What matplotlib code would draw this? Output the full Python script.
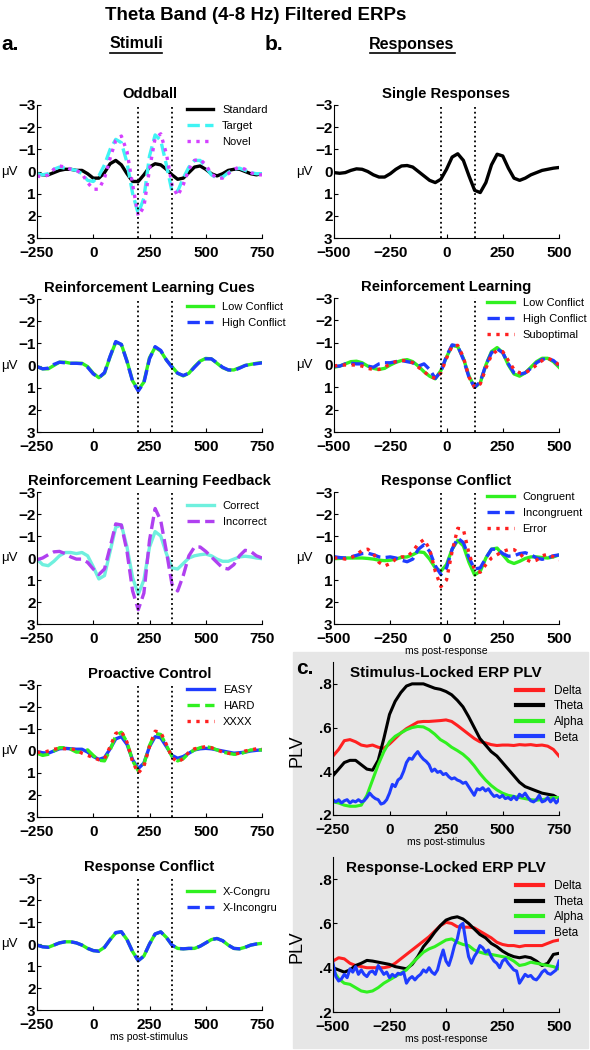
import numpy as np
import matplotlib
matplotlib.use('Agg')
import matplotlib.pyplot as plt
from matplotlib.patches import Rectangle
from matplotlib.lines import Line2D

plt.rcParams['font.family'] = ['Liberation Sans', 'DejaVu Sans']

# time axes (ms)
t_stim = np.arange(-250, 751, 25)
t_resp = np.arange(-500, 501, 25)
t_stim_fine = np.arange(-250, 750.1, 12.5)
t_resp_fine = np.arange(-500, 500.1, 12.5)

# ---- a. stimulus-locked theta ERPs (uV) ----
odd_standard = [0.1, 0.15, 0.15, 0.05, -0.05, -0.1, -0.1, -0.05, -0.05, 0.1,
                0.3, 0.3, 0.05, -0.35, -0.5, -0.3, 0.1, 0.45, 0.45, 0.15,
                -0.2, -0.35, -0.3, -0.1, 0.15, 0.35, 0.3, 0.05, -0.2, -0.25,
                -0.1, 0.1, 0.2, 0.1, -0.05, -0.1, -0.1, 0.0, 0.1, 0.15,
                0.1]
odd_target = [0.1, 0.15, 0.1, -0.1, -0.2, -0.15, -0.1, -0.05, 0.1, 0.4,
              0.45, 0.2, -0.3, -1.0, -1.45, -1.3, -0.4, 1.0, 1.9, 1.2,
              -0.7, -1.65, -1.4, -0.3, 0.9, 0.9, 0.3, -0.2, -0.5, -0.5,
              -0.2, 0.15, 0.3, 0.25, 0.05, -0.1, -0.15, -0.05, 0.05, 0.1,
              0.1]
odd_novel = [0.2, 0.25, 0.15, -0.1, -0.25, -0.2, -0.1, -0.05, 0.1, 0.5,
             0.8, 0.8, 0.3, -0.6, -1.4, -1.6, -0.9, 0.6, 2.0, 1.6,
             -0.1, -1.5, -1.7, -0.8, 0.6, 1.1, 0.6, -0.1, -0.5, -0.55,
             -0.3, 0.1, 0.3, 0.3, 0.1, -0.1, -0.2, -0.1, 0.05, 0.15,
             0.15]

cue_low = [0.05, 0.15, 0.15, 0.0, -0.15, -0.15, -0.1, -0.1, -0.1, 0.05,
           0.35, 0.55, 0.35, -0.4, -1.05, -0.95, -0.2, 0.7, 1.1, 0.75,
           -0.35, -0.82, -0.65, -0.25, 0.05, 0.35, 0.47, 0.35, 0.05, -0.2,
           -0.32, -0.3, -0.1, 0.1, 0.2, 0.2, 0.1, 0.0, -0.05, -0.1,
           -0.13]
cue_high = [0.05, 0.15, 0.12, -0.05, -0.15, -0.12, -0.1, -0.1, -0.08, 0.08,
            0.38, 0.55, 0.32, -0.42, -1.08, -0.95, -0.18, 0.72, 1.15, 0.78,
            -0.3, -0.85, -0.68, -0.25, 0.08, 0.35, 0.45, 0.35, 0.08, -0.18,
            -0.3, -0.3, -0.12, 0.08, 0.2, 0.22, 0.12, 0.0, -0.05, -0.08,
            -0.12]

fb_correct = [0.05, 0.3, 0.35, 0.15, -0.1, -0.25, -0.25, -0.2, -0.25, -0.1,
              0.4, 0.95, 0.8, -0.3, -1.4, -1.5, -0.5, 0.9, 1.65, 1.0,
              -0.5, -1.2, -1.0, -0.2, 0.45, 0.5, 0.25, 0.0, -0.1, -0.15,
              -0.18, -0.1, 0.05, 0.15, 0.15, 0.05, -0.05, -0.08, -0.05, 0.0,
              0.03]
fb_incorrect = [0.08, 0.0, -0.15, -0.28, -0.3, -0.2, -0.05, 0.05, 0.05, 0.2,
                0.5, 0.75, 0.5, -0.5, -1.55, -1.5, -0.3, 1.5, 2.35, 1.6,
                -0.8, -2.25, -1.7, -0.3, 1.2, 1.5, 0.8, -0.1, -0.5, -0.5,
                -0.3, -0.05, 0.2, 0.45, 0.5, 0.3, -0.1, -0.35, -0.3, -0.1,
                0.0]

pro_easy = [0.03, 0.08, 0.1, 0.0, -0.1, -0.12, -0.1, -0.08, -0.08, 0.05,
            0.25, 0.38, 0.3, -0.1, -0.55, -0.65, -0.3, 0.4, 0.8, 0.55,
            -0.2, -0.65, -0.6, -0.2, 0.2, 0.33, 0.25, 0.1, -0.05, -0.1,
            -0.12, -0.1, -0.05, 0.0, 0.05, 0.1, 0.08, 0.05, 0.0, -0.03,
            -0.05]
pro_hard = [0.1, 0.2, 0.15, 0.0, -0.15, -0.15, -0.08, 0.05, 0.05, -0.05,
            0.2, 0.42, 0.45, -0.05, -0.7, -0.85, -0.4, 0.45, 0.9, 0.6,
            -0.25, -0.8, -0.75, -0.25, 0.25, 0.45, 0.35, 0.1, -0.05, -0.15,
            -0.2, -0.15, -0.05, 0.05, 0.1, 0.15, 0.15, 0.05, -0.05, -0.05,
            -0.05]
pro_xxxx = [0.05, 0.08, 0.0, -0.08, -0.12, -0.1, -0.1, -0.05, 0.1, 0.2,
            0.3, 0.4, 0.35, -0.2, -0.8, -0.9, -0.4, 0.5, 1.0, 0.7,
            -0.2, -0.9, -0.85, -0.3, 0.3, 0.5, 0.35, 0.05, -0.1, -0.15,
            -0.2, -0.15, -0.05, 0.05, 0.1, 0.15, 0.1, 0.0, -0.05, -0.1,
            -0.1]

rc_xcongru = [0.05, 0.12, 0.15, 0.05, -0.05, -0.1, -0.1, -0.05, 0.05, 0.2,
              0.3, 0.32, 0.15, -0.2, -0.5, -0.55, -0.2, 0.35, 0.75, 0.55,
              0.0, -0.45, -0.55, -0.3, 0.05, 0.2, 0.22, 0.2, 0.2, 0.1,
              -0.05, -0.2, -0.25, -0.15, 0.05, 0.2, 0.22, 0.15, 0.05, 0.0,
              -0.03]
rc_xincongru = [0.05, 0.13, 0.15, 0.05, -0.05, -0.1, -0.1, -0.05, 0.05, 0.2,
                0.3, 0.33, 0.15, -0.2, -0.52, -0.56, -0.2, 0.35, 0.76, 0.55,
                0.0, -0.46, -0.55, -0.3, 0.05, 0.2, 0.22, 0.2, 0.2, 0.1,
                -0.05, -0.2, -0.25, -0.15, 0.05, 0.2, 0.22, 0.15, 0.05, 0.0,
                -0.03]

# ---- b. response-locked theta ERPs (uV) ----
single_resp = [0.05, 0.08, 0.05, -0.05, -0.12, -0.1, 0.0, 0.15, 0.25, 0.25,
               0.1, -0.1, -0.25, -0.27, -0.2, 0.0, 0.2, 0.4, 0.5, 0.35,
               -0.1, -0.65, -0.8, -0.5, 0.2, 0.85, 0.95, 0.5, -0.3, -0.78,
               -0.7, -0.15, 0.3, 0.4, 0.3, 0.15, 0.05, -0.05, -0.1, -0.15,
               -0.18]

rl_low = [0.1, 0.05, -0.05, -0.15, -0.17, -0.1, 0.05, 0.15, 0.2, 0.15,
          0.0, -0.12, -0.2, -0.24, -0.15, 0.05, 0.3, 0.5, 0.62, 0.25,
          -0.35, -0.88, -0.82, -0.3, 0.5, 1.0, 0.8, 0.0, -0.6, -0.78,
          -0.55, 0.0, 0.4, 0.5, 0.35, 0.1, -0.15, -0.3, -0.3, -0.15,
          0.1]
rl_high = [0.05, 0.05, -0.05, -0.08, -0.05, -0.05, 0.05, 0.1, -0.05, -0.1,
           -0.1, -0.15, -0.2, -0.15, -0.1, 0.05, -0.05, 0.2, 0.6, 0.3,
           -0.4, -0.9, -0.85, -0.25, 0.55, 1.0, 0.75, 0.0, -0.55, -0.72,
           -0.55, -0.05, 0.35, 0.42, 0.35, 0.15, -0.1, -0.25, -0.3, -0.2,
           0.02]
rl_subopt = [0.05, 0.0, 0.0, 0.0, 0.0, 0.05, 0.15, 0.2, 0.2, 0.1,
             -0.05, -0.15, -0.2, -0.2, -0.1, 0.1, 0.3, 0.5, 0.6, 0.35,
             -0.3, -0.85, -0.88, -0.35, 0.55, 1.0, 0.85, 0.15, -0.45, -0.65,
             -0.6, -0.2, 0.2, 0.35, 0.35, 0.2, 0.0, -0.2, -0.3, -0.2,
             0.0]

rr_congruent = [0.03, 0.02, 0.0, 0.0, 0.0, 0.0, 0.02, 0.05, 0.1, 0.12,
                0.1, 0.05, -0.03, -0.05, -0.15, -0.28, -0.25, 0.05, 0.45, 0.6,
                0.3, -0.4, -0.8, -0.55, 0.2, 0.77, 0.6, 0.0, -0.4, -0.45,
                -0.15, 0.15, 0.25, 0.15, 0.02, -0.05, -0.05, -0.02, 0.0, -0.05,
                -0.14]
rr_incongruent = [-0.06, -0.02, 0.0, -0.05, -0.12, -0.2, -0.22, -0.15, -0.05, -0.02,
                  -0.05, 0.0, 0.1, 0.17, 0.05, -0.4, -0.6, -0.3, 0.35, 0.75,
                  0.45, -0.4, -0.9, -0.7, 0.0, 0.5, 0.45, 0.0, -0.4, -0.4,
                  -0.2, -0.08, -0.1, -0.2, -0.24, -0.15, 0.0, 0.06, 0.0, -0.1,
                  -0.14]
rr_error = [0.0, 0.0, 0.05, 0.0, -0.15, -0.35, -0.4, -0.2, 0.2, 0.36,
            0.25, 0.05, -0.05, -0.05, -0.3, -0.65, -0.84, -0.4, 0.6, 1.3,
            1.0, -0.3, -1.35, -1.3, -0.2, 0.55, 0.65, 0.3, 0.0, -0.15,
            -0.3, -0.38, -0.38, -0.2, 0.05, 0.17, 0.1, -0.1, -0.17, -0.05,
            0.09]

# ---- c. PLV ----
plv_stim_delta = [0.47, 0.5, 0.54, 0.545, 0.535, 0.52, 0.515, 0.52, 0.51, 0.505,
                  0.525, 0.55, 0.575, 0.595, 0.61, 0.625, 0.628, 0.628, 0.63, 0.632,
                  0.635, 0.628, 0.61, 0.59, 0.57, 0.55, 0.535, 0.53, 0.522, 0.518,
                  0.52, 0.52, 0.518, 0.522, 0.52, 0.522, 0.518, 0.52, 0.515, 0.5,
                  0.47]
plv_stim_theta = [0.38, 0.41, 0.44, 0.45, 0.45, 0.43, 0.41, 0.405, 0.45, 0.55,
                  0.66, 0.72, 0.76, 0.79, 0.8, 0.8, 0.8, 0.79, 0.78, 0.775,
                  0.765, 0.75, 0.725, 0.695, 0.65, 0.6, 0.55, 0.52, 0.49, 0.47,
                  0.44, 0.41, 0.38, 0.35, 0.33, 0.32, 0.31, 0.3, 0.295, 0.29,
                  0.275]
plv_stim_alpha = [0.26, 0.255, 0.245, 0.24, 0.24, 0.245, 0.29, 0.36, 0.43, 0.49,
                  0.535, 0.56, 0.575, 0.59, 0.6, 0.605, 0.603, 0.59, 0.57, 0.545,
                  0.53, 0.51, 0.495, 0.478, 0.455, 0.425, 0.39, 0.36, 0.335, 0.315,
                  0.3, 0.29, 0.285, 0.28, 0.275, 0.27, 0.268, 0.27, 0.275, 0.28,
                  0.28]
plv_stim_beta = [0.27, 0.26, 0.27, 0.255, 0.265, 0.27, 0.255, 0.265, 0.26, 0.27,
                 0.26, 0.265, 0.28, 0.3, 0.285, 0.275, 0.27, 0.25, 0.255, 0.27,
                 0.3, 0.34, 0.33, 0.36, 0.37, 0.4, 0.44, 0.46, 0.455, 0.475,
                 0.49, 0.47, 0.455, 0.445, 0.43, 0.4, 0.41, 0.395, 0.4, 0.385,
                 0.39, 0.375, 0.365, 0.37, 0.36, 0.355, 0.345, 0.35, 0.33, 0.31,
                 0.29, 0.32, 0.315, 0.325, 0.31, 0.32, 0.3, 0.285, 0.29, 0.28,
                 0.29, 0.275, 0.28, 0.27, 0.285, 0.27, 0.295, 0.285, 0.3, 0.28,
                 0.265, 0.26, 0.27, 0.29, 0.26, 0.265, 0.28, 0.26, 0.275, 0.255,
                 0.27]

plv_resp_delta = [0.43, 0.445, 0.44, 0.42, 0.41, 0.405, 0.4, 0.4, 0.4, 0.4,
                  0.405, 0.42, 0.44, 0.46, 0.48, 0.5, 0.52, 0.54, 0.565, 0.59,
                  0.605, 0.6, 0.585, 0.583, 0.583, 0.58, 0.565, 0.55, 0.535, 0.515,
                  0.505, 0.5, 0.5, 0.495, 0.5, 0.5, 0.5, 0.5, 0.51, 0.52,
                  0.525]
plv_resp_theta = [0.4, 0.39, 0.38, 0.39, 0.41, 0.42, 0.433, 0.43, 0.425, 0.42,
                  0.415, 0.405, 0.4, 0.395, 0.415, 0.45, 0.495, 0.525, 0.56, 0.59,
                  0.615, 0.625, 0.63, 0.62, 0.6, 0.575, 0.55, 0.535, 0.51, 0.495,
                  0.475, 0.46, 0.45, 0.445, 0.45, 0.445, 0.43, 0.41, 0.42, 0.46,
                  0.465]
plv_resp_alpha = [0.39, 0.35, 0.33, 0.325, 0.31, 0.295, 0.29, 0.295, 0.31, 0.33,
                  0.345, 0.36, 0.375, 0.39, 0.42, 0.445, 0.47, 0.485, 0.495, 0.51,
                  0.525, 0.53, 0.515, 0.505, 0.5, 0.48, 0.47, 0.463, 0.46, 0.455,
                  0.45, 0.445, 0.43, 0.41, 0.415, 0.425, 0.42, 0.415, 0.41, 0.405,
                  0.395]
plv_resp_beta = [0.42, 0.36, 0.34, 0.35, 0.37, 0.355, 0.395, 0.38, 0.405, 0.37,
                 0.39, 0.37, 0.36, 0.38, 0.385, 0.37, 0.41, 0.39, 0.37, 0.38,
                 0.355, 0.37, 0.36, 0.375, 0.37, 0.38, 0.33, 0.35, 0.36, 0.345,
                 0.36, 0.37, 0.39, 0.38, 0.4, 0.38, 0.37, 0.39, 0.44, 0.48,
                 0.43, 0.41, 0.45, 0.5, 0.53, 0.59, 0.6, 0.52, 0.45, 0.42,
                 0.45, 0.47, 0.5, 0.49, 0.47, 0.48, 0.45, 0.43, 0.42, 0.4,
                 0.43, 0.44, 0.42, 0.405, 0.39, 0.385, 0.33, 0.35, 0.37, 0.36,
                 0.365, 0.35, 0.345, 0.36, 0.38, 0.39, 0.375, 0.37, 0.38, 0.39,
                 0.43]

stim_markers = [200, 350]
resp_markers = [-25, 125]

GREEN = '#30f020'
BLUE = '#1f3cff'
RED = '#ff2020'
CYAN = '#40f4f4'
AQUA = '#6ff0de'
MAGENTA = '#d440ff'
PURPLE = '#b040f0'
GRAY_BG = '#e6e6e6'

W, H = 590, 1050
fig = plt.figure(figsize=(W / 100, H / 100), dpi=100)


def rect(left, top, width, bottom):
    # pixel box -> figure fraction
    return [left / W, 1 - bottom / H, width / W, (bottom - top) / H]


def tick_text(vals):
    return ['\u2212' + str(-v) if v < 0 else str(v) for v in vals]


def style_axis(ax):
    for s in ['top', 'right']:
        ax.spines[s].set_visible(False)
    ax.tick_params(direction='in', length=3, labelsize=11)
    ax.tick_params(axis='y', pad=1)
    ax.tick_params(axis='x', pad=5.5)
    for lab in ax.get_xticklabels() + ax.get_yticklabels():
        lab.set_fontweight('bold')


def erp_panel(box, t, series, title, markers, anchor=None, xlabel=None):
    ax = fig.add_axes(box)
    for vals, color, ls, label in series:
        ax.plot(t, vals, color=color, ls=ls, lw=2.4, label=label)
    for m in markers:
        ax.axvline(m, color='k', ls=':', lw=1.3, zorder=4)
    ax.set_xlim(t[0], t[-1])
    ax.set_ylim(3, -3)
    ax.set_yticks([-3, -2, -1, 0, 1, 2, 3])
    ax.set_yticklabels(tick_text([-3, -2, -1, 0, 1, 2, 3]))
    xt = list(range(int(t[0]), int(t[-1]) + 1, 250))
    ax.set_xticks(xt)
    ax.set_xticklabels(tick_text(xt))
    style_axis(ax)
    ax.set_title(title, fontsize=10.7, fontweight='bold', pad=5)
    # uV label sits at the very left edge of each column
    x_left = -(box[0] * W - (1 if box[0] < 0.5 else 296)) / (box[2] * W)
    ax.text(x_left, 0.5, '\u03bcV', transform=ax.transAxes, ha='left',
            va='center', fontsize=9.5)
    if anchor is not None:
        ax.legend(loc='upper left', bbox_to_anchor=anchor, frameon=False,
                  fontsize=8, handlelength=2.4, handletextpad=0.8,
                  labelspacing=0.55, borderpad=0, borderaxespad=0)
    if xlabel:
        ax.set_xlabel(xlabel, fontsize=7.5, labelpad=0)
    return ax


def plv_panel(box, t, t_fine, d, th, a, b, title, xlabel):
    ax = fig.add_axes(box)
    ax.set_facecolor(GRAY_BG)
    ax.plot(t, d, color=RED, lw=2.2, label='Delta')
    ax.plot(t, th, color='k', lw=2.2, label='Theta')
    ax.plot(t, a, color=GREEN, lw=2.2, label='Alpha')
    ax.plot(t_fine, b, color=BLUE, lw=2.2, label='Beta')
    ax.set_xlim(t[0], t[-1])
    ax.set_ylim(0.2, 0.9)
    ax.set_yticks([0.2, 0.4, 0.6, 0.8])
    ax.set_yticklabels(['.2', '.4', '.6', '.8'])
    xt = list(range(int(t[0]), int(t[-1]) + 1, 250))
    ax.set_xticks(xt)
    ax.set_xticklabels(tick_text(xt))
    style_axis(ax)
    ax.text(0.5, 0.93, title, transform=ax.transAxes, ha='center',
            va='center', fontsize=11, fontweight='bold')
    ax.set_ylabel('PLV', fontsize=13)
    ax.yaxis.set_label_coords(-0.12, 0.42)
    ax.set_xlabel(xlabel, fontsize=7.5, labelpad=0)
    leg = ax.legend(loc='upper left', bbox_to_anchor=(0.81, 0.85), frameon=False,
                    fontsize=8.5, handlelength=2.3, handletextpad=0.9,
                    labelspacing=0.3, borderpad=0, borderaxespad=0)
    for ln in leg.get_lines():
        ln.set_linewidth(3)
    return ax


# gray background of panel c
fig.patches.append(Rectangle((293 / W, 1 - 1048 / H), (588 - 293) / W, (1048 - 652) / H,
                             transform=fig.transFigure, color=GRAY_BG, zorder=-1))

# column a
erp_panel(rect(37, 105, 225, 238), t_stim,
          [(odd_standard, 'k', '-', 'Standard'),
           (odd_target, CYAN, '--', 'Target'),
           (odd_novel, MAGENTA, ':', 'Novel')],
          'Oddball', stim_markers, anchor=(0.665, 1.0))
erp_panel(rect(37, 299, 225, 432), t_stim,
          [(cue_low, GREEN, '-', 'Low Conflict'),
           (cue_high, BLUE, '--', 'High Conflict')],
          'Reinforcement Learning Cues', stim_markers, anchor=(0.665, 0.98))
erp_panel(rect(37, 492, 225, 624), t_stim,
          [(fb_correct, AQUA, '-', 'Correct'),
           (fb_incorrect, PURPLE, '--', 'Incorrect')],
          'Reinforcement Learning Feedback', stim_markers, anchor=(0.667, 0.935))
erp_panel(rect(37, 685, 225, 817), t_stim,
          [(pro_easy, BLUE, '-', 'EASY'),
           (pro_hard, GREEN, '--', 'HARD'),
           (pro_xxxx, RED, ':', 'XXXX')],
          'Proactive Control', stim_markers, anchor=(0.667, 1.0))
erp_panel(rect(37, 878, 225, 1010), t_stim,
          [(rc_xcongru, GREEN, '-', 'X-Congru'),
           (rc_xincongru, BLUE, '--', 'X-Incongru')],
          'Response Conflict', stim_markers, anchor=(0.667, 0.935),
          xlabel='ms post-stimulus')

# column b
erp_panel(rect(334, 105, 225, 238), t_resp,
          [(single_resp, 'k', '-', 'Single')],
          'Single Responses', resp_markers)
erp_panel(rect(334, 298, 225, 432), t_resp,
          [(rl_low, GREEN, '-', 'Low Conflict'),
           (rl_high, BLUE, '--', 'High Conflict'),
           (rl_subopt, RED, ':', 'Suboptimal')],
          'Reinforcement Learning', resp_markers, anchor=(0.68, 1.0))
erp_panel(rect(334, 492, 225, 624), t_resp,
          [(rr_congruent, GREEN, '-', 'Congruent'),
           (rr_incongruent, BLUE, '--', 'Incongruent'),
           (rr_error, RED, ':', 'Error')],
          'Response Conflict', resp_markers, anchor=(0.68, 1.0),
          xlabel='ms post-response')

# column c
plv_panel(rect(333, 662, 226, 815), t_stim, t_stim_fine,
          plv_stim_delta, plv_stim_theta, plv_stim_alpha, plv_stim_beta,
          'Stimulus-Locked ERP PLV', 'ms post-stimulus')
plv_panel(rect(333, 857, 226, 1012), t_resp, t_resp_fine,
          plv_resp_delta, plv_resp_theta, plv_resp_alpha, plv_resp_beta,
          'Response-Locked ERP PLV', 'ms post-response')

# headers
fig.text(256 / W, 1 - 15 / H, 'Theta Band (4-8 Hz) Filtered ERPs', ha='center',
         va='center', fontsize=13.5, fontweight='bold')
fig.text(1 / W, 1 - 45 / H, 'a.', ha='left', va='center', fontsize=15, fontweight='bold')
fig.text(265 / W, 1 - 45 / H, 'b.', ha='left', va='center', fontsize=15, fontweight='bold')
fig.text(296 / W, 1 - 668 / H, 'c.', ha='left', va='center', fontsize=15, fontweight='bold')
fig.text(136 / W, 1 - 44 / H, 'Stimuli', ha='center', va='center', fontsize=11.5, fontweight='bold')
fig.text(412 / W, 1 - 44 / H, 'Responses', ha='center', va='center', fontsize=11.5, fontweight='bold')
fig.add_artist(Line2D([110 / W, 162 / W], [1 - 53 / H, 1 - 53 / H], color='k', lw=1.2))
fig.add_artist(Line2D([370 / W, 455 / W], [1 - 53 / H, 1 - 53 / H], color='k', lw=1.2))

fig.savefig('out.png', dpi=100, facecolor='white')
